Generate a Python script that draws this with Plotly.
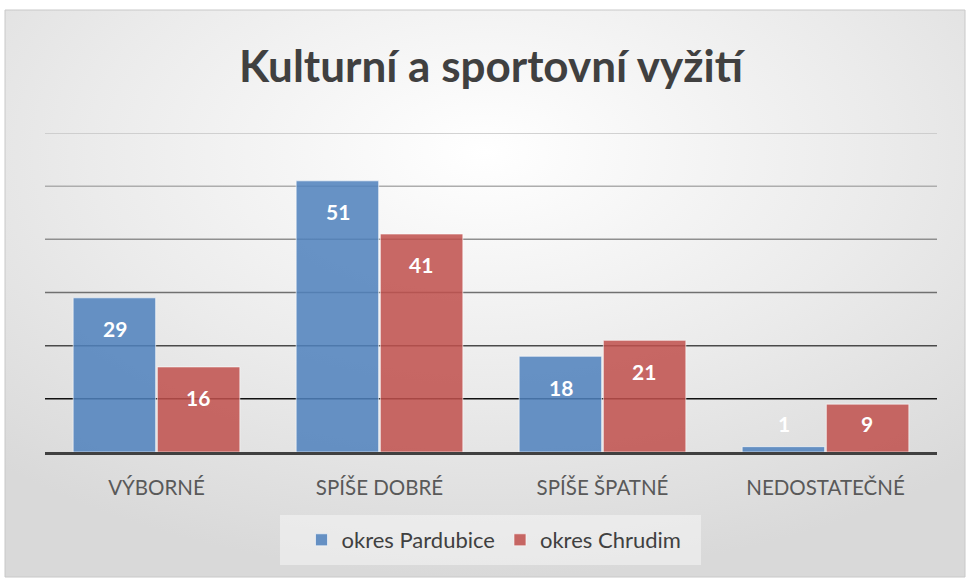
import base64
import plotly.graph_objects as go

categories = ["VÝBORNÉ", "SPÍŠE DOBRÉ", "SPÍŠE ŠPATNÉ", "NEDOSTATEČNÉ"]
pardubice = [29, 51, 18, 1]
chrudim = [16, 41, 21, 9]
series_names = ["okres Pardubice", "okres Chrudim"]
grid_values = [10, 20, 30, 40, 50, 60]
grid_colors = ["#111111", "#4a4a4a", "#707070", "#8f8f8f", "#adadad", "#c4c4c4"]
title_text = "Kulturní a sportovní vyžití"

FONT = "Lato, Open Sans, sans-serif"
W, H = 966, 578
ML, MR, MT, MB = 45, 29, 133, 126
PW, PH = W - ML - MR, H - MT - MB

def px_to_paper_x(p):
    return (p - ML) / PW

def px_to_paper_y(p):
    return (H - MB - p) / PH

svg = (
    '<svg xmlns="http://www.w3.org/2000/svg" width="961" height="568" preserveAspectRatio="none">'
    '<defs><radialGradient id="g" cx="50%" cy="25%" r="75%">'
    '<stop offset="0" stop-color="#ffffff"/><stop offset="0.55" stop-color="#ebebeb"/>'
    '<stop offset="1" stop-color="#d9d9d9"/></radialGradient></defs>'
    '<rect width="961" height="568" fill="url(#g)"/></svg>'
)
src = "data:image/svg+xml;base64," + base64.b64encode(svg.encode()).decode()

fig = go.Figure()
fig.add_trace(go.Bar(
    x=categories, y=pardubice, name=series_names[0],
    marker=dict(color="rgba(79,129,189,0.86)", line=dict(color="rgba(255,255,255,0.6)", width=1)),
))
fig.add_trace(go.Bar(
    x=categories, y=chrudim, name=series_names[1],
    marker=dict(color="rgba(192,80,77,0.86)", line=dict(color="rgba(255,255,255,0.6)", width=1)),
))

# value labels (inside end, clamped for short bars)
for vals, shift in [(pardubice, -0.1875), (chrudim, 0.1875)]:
    for cat_i, v in enumerate(vals):
        fig.add_annotation(
            x=cat_i + shift, y=max(v - 5.8, 5.45), xref="x", yref="y",
            text=f"<b>{v}</b>", showarrow=False,
            font=dict(family=FONT, size=21, color="white"),
        )

shapes = []
shapes.append(dict(type="rect", xref="paper", yref="paper",
                   x0=px_to_paper_x(5), x1=px_to_paper_x(965),
                   y0=px_to_paper_y(577), y1=px_to_paper_y(10),
                   line=dict(color="#c8c8c8", width=1), fillcolor="rgba(0,0,0,0)", layer="below"))
shapes.append(dict(type="rect", xref="paper", yref="paper",
                   x0=px_to_paper_x(280), x1=px_to_paper_x(701),
                   y0=px_to_paper_y(565), y1=px_to_paper_y(515),
                   line=dict(width=0), fillcolor="rgba(245,245,245,0.55)", layer="below"))
for v, c in zip(grid_values, grid_colors):
    shapes.append(dict(type="line", xref="paper", yref="y", x0=0, x1=1, y0=v, y1=v,
                       line=dict(color=c, width=1.5), layer="below"))

fig.update_layout(
    width=W, height=H,
    margin=dict(l=ML, r=MR, t=MT, b=MB),
    paper_bgcolor="white", plot_bgcolor="rgba(0,0,0,0)",
    images=[dict(source=src, xref="paper", yref="paper",
                 x=px_to_paper_x(5), y=px_to_paper_y(10),
                 sizex=960 / PW, sizey=567 / PH,
                 xanchor="left", yanchor="top", sizing="stretch", layer="below")],
    shapes=shapes,
    title=dict(text=f"<b>{title_text}</b>", x=491 / W, xanchor="center",
               y=1 - 67 / H, yanchor="middle",
               font=dict(family=FONT, size=44, color="#404040")),
    barmode="group", bargap=0.245, bargroupgap=0.02,
    showlegend=True,
    legend=dict(orientation="h", x=px_to_paper_x(494), xanchor="center",
                y=px_to_paper_y(540), yanchor="middle", bgcolor="rgba(0,0,0,0)",
                font=dict(family=FONT, size=22, color="#404040"),
                itemwidth=30, traceorder="normal"),
    font=dict(family=FONT),
)
fig.update_xaxes(showline=True, linecolor="#404040", linewidth=3, ticks="",
                 tickfont=dict(family=FONT, size=20.5, color="#595959"),
                 ticklabelstandoff=15, showgrid=False, fixedrange=True)
fig.update_yaxes(range=[0, 60], showgrid=False, showticklabels=False, zeroline=False,
                 fixedrange=True)

fig.write_html("out.html", config={"displayModeBar": False},
               post_script="document.body.style.margin='0';document.body.style.padding='0';")
